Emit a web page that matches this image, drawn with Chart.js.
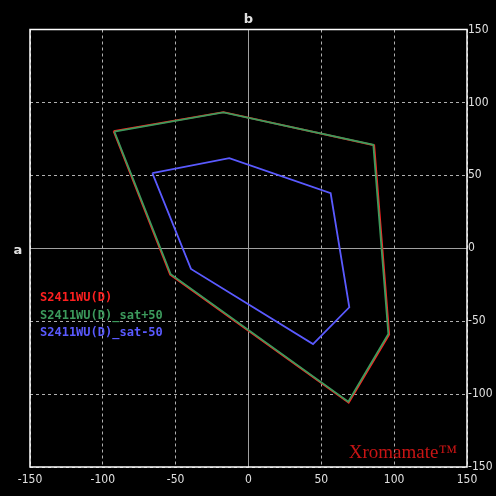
<!DOCTYPE html>
<html><head><meta charset="utf-8">
<script src="https://cdn.jsdelivr.net/npm/chart.js@4/dist/chart.umd.min.js"></script>
<style>html,body{margin:0;padding:0;background:#000;}#wrap{width:496px;height:496px;}</style>
</head><body><div id="wrap"><canvas id="c" width="496" height="496"></canvas></div>
<script>
const seriesNames = ["S2411WU(D)", "S2411WU(D)_sat+50", "S2411WU(D)_sat-50"];
const seriesColors = ["#ff2020", "#3c9a5c", "#5a5aff"];
const redA = [-92.6, -17.2, 86.3, 96.6, 68.8, -53.8, -92.6];
const redB = [80.3, 93.3, 70.6, -59.2, -105.9, -18.2, 80.3];
const greenA = [-92.1, -17.3, 85.7, 96.0, 68.5, -53.4, -92.1];
const greenB = [80.0, 93.1, 70.9, -58.8, -105.3, -17.8, 80.0];
const blueA = [-66.0, -13.2, 56.4, 69.2, 44.3, -39.5, -66.0];
const blueB = [51.5, 61.8, 37.7, -40.5, -65.7, -14.2, 51.5];
const tickValues = [-150, -100, -50, 0, 50, 100, 150];
const axisNames = ["a", "b"];
const watermark = "Xromamate\u2122";

function pts(a, b) { return a.map((v, i) => ({x: v, y: b[i]})); }
const tickFont = {family: "'DejaVu Sans Condensed','Liberation Sans Narrow',sans-serif", size: 12};

const overlay = {
  id: 'overlay',
  beforeDatasetsDraw(chart) {
    const {ctx, chartArea: a} = chart;
    ctx.save();
    ctx.strokeStyle = '#ffffff';
    ctx.lineWidth = 1.5;
    ctx.strokeRect(a.left, a.top, a.right - a.left, a.bottom - a.top);
    ctx.restore();
  },
  afterDraw(chart) {
    const {ctx, chartArea: a, scales} = chart;
    ctx.save();
    ctx.fillStyle = '#e0e0e0';
    ctx.font = "bold 13px 'DejaVu Sans', sans-serif";
    ctx.textAlign = 'center';
    ctx.textBaseline = 'middle';
    ctx.fillText(axisNames[1], scales.x.getPixelForValue(0), a.top - 10);
    ctx.fillText(axisNames[0], 18, scales.y.getPixelForValue(0) + 2);
    ctx.font = "bold 12px 'DejaVu Sans Mono', monospace";
    ctx.textAlign = 'left';
    seriesNames.forEach((n, i) => {
      ctx.fillStyle = seriesColors[i];
      ctx.fillText(n, 40, 298 + i * 17.5);
    });
    ctx.font = "19px 'Liberation Serif', 'Times New Roman', serif";
    ctx.fillStyle = '#c81414';
    ctx.textAlign = 'right';
    ctx.fillText(watermark, 457, 453);
    ctx.restore();
  }
};

const gridOpts = {
  color: ctx => (ctx.tick && ctx.tick.value === 0) ? '#a0a0a0' : '#b0b0b0',
  lineWidth: 1,
  drawTicks: false
};
const borderOpts = {
  display: false,
  dash: ctx => (ctx.tick && ctx.tick.value === 0) ? [] : [3, 3]
};

new Chart(document.getElementById('c'), {
  type: 'scatter',
  data: {
    datasets: [
      {label: seriesNames[0], data: pts(redA, redB), borderColor: seriesColors[0], showLine: true, pointRadius: 0, borderWidth: 1.8, fill: false, tension: 0, order: 2},
      {label: seriesNames[1], data: pts(greenA, greenB), borderColor: seriesColors[1], showLine: true, pointRadius: 0, borderWidth: 1.8, fill: false, tension: 0, order: 1},
      {label: seriesNames[2], data: pts(blueA, blueB), borderColor: seriesColors[2], showLine: true, pointRadius: 0, borderWidth: 1.8, fill: false, tension: 0, order: 0}
    ]
  },
  options: {
    responsive: false,
    animation: false,
    devicePixelRatio: 1,
    layout: {padding: {left: 30, top: 29.5, right: 0, bottom: 0}},
    plugins: {legend: {display: false}, tooltip: {enabled: false}},
    scales: {
      x: {
        type: 'linear', position: 'bottom', min: -150, max: 150,
        afterBuildTicks: s => { s.ticks = tickValues.map(v => ({value: v})); },
        afterFit: s => { s.height = 29; },
        ticks: {color: '#e0e0e0', font: tickFont, padding: 6, maxRotation: 0, autoSkip: false},
        grid: gridOpts, border: borderOpts
      },
      y: {
        type: 'linear', position: 'right', min: -150, max: 150,
        afterBuildTicks: s => { s.ticks = tickValues.map(v => ({value: v})); },
        afterFit: s => { s.width = 29; },
        ticks: {color: '#e0e0e0', font: tickFont, padding: 1, autoSkip: false},
        grid: gridOpts, border: borderOpts
      }
    }
  },
  plugins: [overlay]
});
</script></body></html>
